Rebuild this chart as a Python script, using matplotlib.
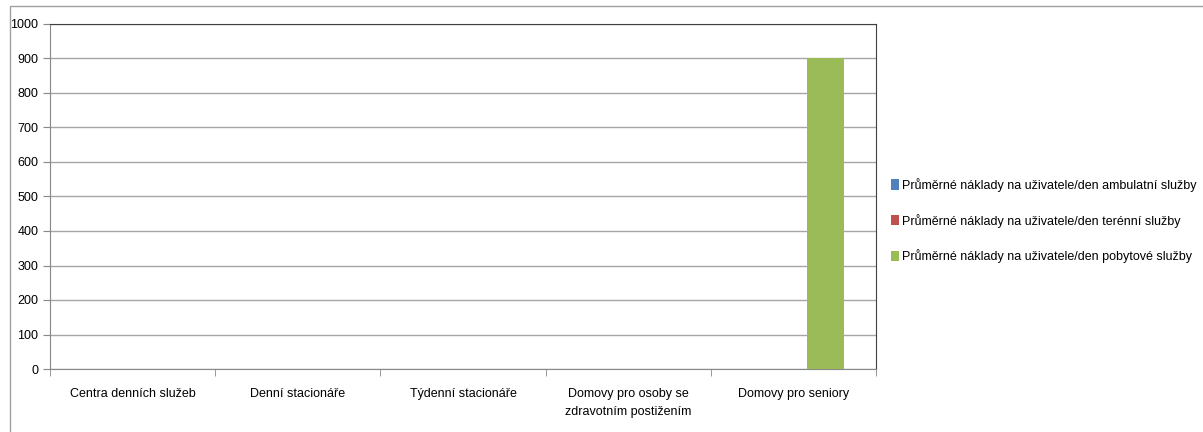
import numpy as np
import matplotlib.pyplot as plt
from matplotlib.patches import Rectangle

categories = ['Centra denních služeb', 'Denní stacionáře', 'Týdenní stacionáře',
              'Domovy pro osoby se\nzdravotním postižením', 'Domovy pro seniory']
ambulantni = [0, 0, 0, 0, 0]
terenni = [0, 0, 0, 0, 0]
pobytove = [0, 0, 0, 0, 900]
series_names = ['Průměrné náklady na uživatele/den ambulatní služby',
                'Průměrné náklady na uživatele/den terénní služby',
                'Průměrné náklady na uživatele/den pobytové služby']
colors = ['#4f81bd', '#c0504d', '#9bbb59']

plt.rcParams['font.family'] = ['Liberation Sans', 'DejaVu Sans']

fig = plt.figure(figsize=(12.03, 4.32), dpi=100)
ax = fig.add_axes([50 / 1203, 63 / 432, 826 / 1203, 345 / 432])

# outer chart border
fig.patches.append(Rectangle((10 / 1203, -0.05), 1.1, 1 - 6 / 432 + 0.05,
                             transform=fig.transFigure, fill=False,
                             edgecolor='#a0a0a0', linewidth=1))

x = np.arange(len(categories))
w = 1 / 4.5
for i, (vals, name, c) in enumerate(zip([ambulantni, terenni, pobytove], series_names, colors)):
    ax.bar(x + (i - 1) * w - 0.03, vals, width=w, color=c, label=name, zorder=3)

ax.set_xlim(-0.5, len(categories) - 0.5)
ax.set_ylim(0, 1000)
ax.set_yticks(range(0, 1001, 100))
ax.yaxis.grid(True, color='#a6a6a6', linewidth=1, zorder=0)
ax.set_xticks(x)
ax.set_xticklabels(categories, fontsize=9, linespacing=1.6)
ax.tick_params(axis='x', which='major', length=0, pad=14)
ax.set_xticks(np.arange(-0.5, len(categories)), minor=True)
ax.tick_params(axis='x', which='minor', length=5, color='#888888')
ax.tick_params(axis='y', length=5, color='#888888', labelsize=9)

ax.spines['left'].set_color('#888888')
ax.spines['bottom'].set_color('#888888')
ax.spines['top'].set_color('#404040')
ax.spines['right'].set_color('#404040')

ax.legend(loc='center left', bbox_to_anchor=(1.0, 0.43), frameon=False, fontsize=9,
          handlelength=0.6, handleheight=0.9, handletextpad=0.3, labelspacing=1.75,
          borderaxespad=0.8)

fig.savefig('out.png', dpi=100)
